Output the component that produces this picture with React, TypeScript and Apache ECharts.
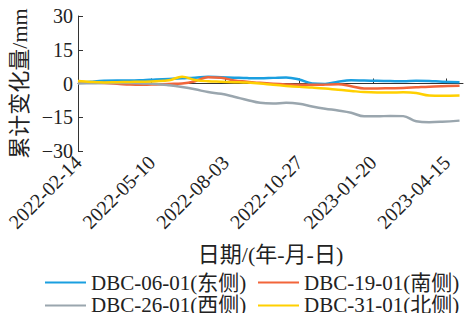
import React, { useEffect, useRef } from "react";
import * as echarts from "echarts";

const startDate = "2022-02-14";
const dates = [
  "2022-02-14", "2022-03-01", "2022-03-16", "2022-03-31", "2022-04-15", "2022-04-30",
  "2022-05-15", "2022-05-30", "2022-06-14", "2022-06-29", "2022-07-14", "2022-07-29",
  "2022-08-13", "2022-08-28", "2022-09-12", "2022-09-27", "2022-10-12", "2022-10-27",
  "2022-11-11", "2022-11-26", "2022-12-11", "2022-12-26", "2023-01-10", "2023-01-25",
  "2023-02-09", "2023-02-24", "2023-03-11", "2023-03-26", "2023-04-10", "2023-04-30",
];
const tickDates = ["2022-02-14", "2022-05-10", "2022-08-03", "2022-10-27", "2023-01-20", "2023-04-15"];
const axisEndDate = "2023-05-04";

const seriesNames = ["DBC-06-01(东侧)", "DBC-19-01(南侧)", "DBC-26-01(西侧)", "DBC-31-01(北侧)"];
const east = [0.3, 0.8, 1.2, 1.3, 1.3, 1.5, 1.8, 2.0, 2.3, 2.6, 3.0, 2.8, 2.6, 2.4, 2.3, 2.5, 2.7, 1.8, 0.0, -0.2, 0.8, 1.4, 1.3, 1.2, 1.1, 1.0, 1.2, 1.1, 0.8, 0.6];
const south = [0.8, 0.5, 0.2, -0.1, -0.5, -0.6, -0.4, -0.2, 0.0, 1.0, 2.8, 2.6, 1.3, 0.8, 0.3, -0.1, -0.4, -0.6, -0.6, -0.5, -0.3, -1.2, -2.2, -2.2, -2.1, -2.0, -1.7, -1.4, -1.2, -1.0];
const west = [0.0, 0.1, 0.2, 0.2, 0.2, 0.0, -0.2, -0.8, -1.6, -2.6, -3.8, -4.6, -5.9, -7.3, -8.6, -8.9, -8.6, -9.0, -10.2, -11.2, -12.0, -13.0, -14.6, -14.6, -14.4, -14.5, -16.8, -17.2, -17.0, -16.5];
const north = [1.1, 0.7, 0.5, 0.6, 0.7, 0.8, 1.0, 1.4, 3.0, 1.6, 1.0, 0.8, 0.6, 0.4, 0.0, -0.6, -1.1, -1.5, -1.8, -2.2, -2.8, -3.3, -3.8, -4.0, -4.0, -3.9, -4.2, -5.3, -5.4, -5.3];
const colors = ["#1a9fe0", "#f2653a", "#9aa6ae", "#ffd000"];

const DAY = 86400000;
const t0 = Date.parse(startDate + "T00:00:00Z");
const toDay = (s: string) => Math.round((Date.parse(s + "T00:00:00Z") - t0) / DAY);
const fmtDay = (d: number) => new Date(t0 + d * DAY).toISOString().slice(0, 10);

const FONT = "'Liberation Serif','Times New Roman','Noto Sans CJK SC',serif";

export default function App() {
  const ref = useRef<HTMLDivElement>(null);
  useEffect(() => {
    if (!ref.current) return;
    document.body.style.margin = "0";
    const chart = echarts.init(ref.current, null, { renderer: "svg" });
    const tickDays = tickDates.map(toDay);
    const values = [east, south, west, north];
    const legendBase = {
      orient: "vertical",
      top: 272,
      height: 60,
      itemGap: 2,
      itemWidth: 41,
      itemHeight: 2,
      itemTextGap: 6,
      icon: "rect",
      padding: 0,
      textStyle: { fontSize: 21, color: "#222", fontFamily: FONT },
    };
    chart.setOption({
      animation: false,
      textStyle: { fontFamily: FONT },
      grid: { left: 78, right: 2, top: 16, bottom: 162, containLabel: false },
      xAxis: {
        type: "value",
        min: 0,
        max: toDay(axisEndDate),
        name: "日期/(年-月-日)",
        nameLocation: "middle",
        nameGap: 92,
        nameTextStyle: { fontSize: 22, color: "#222", fontFamily: FONT },
        axisLine: { show: true, lineStyle: { color: "#333", width: 1 } },
        axisTick: { show: true, inside: true, length: 5, lineStyle: { color: "#333" }, customValues: tickDays },
        axisLabel: {
          rotate: 45,
          fontSize: 20,
          color: "#222",
          fontFamily: FONT,
          margin: 8,
          customValues: tickDays,
          formatter: (v: number) => fmtDay(v),
        },
        splitLine: { show: false },
      },
      yAxis: {
        type: "value",
        min: -30,
        max: 30,
        interval: 15,
        name: "累计变化量/mm",
        nameLocation: "middle",
        nameGap: 46,
        nameTextStyle: { fontSize: 22, color: "#222", fontFamily: FONT },
        axisLine: { show: true, lineStyle: { color: "#333", width: 1 } },
        axisTick: { show: true, inside: true, length: 5, lineStyle: { color: "#333" } },
        axisLabel: {
          fontSize: 20,
          color: "#222",
          fontFamily: FONT,
          margin: 5,
          formatter: (v: number) => (v < 0 ? "\u2212" + Math.abs(v) : String(v)),
        },
        splitLine: { show: false },
      },
      legend: [
        { ...legendBase, left: 45, data: [seriesNames[0], seriesNames[2]] },
        { ...legendBase, left: 258, data: [seriesNames[1], seriesNames[3]] },
      ],
      series: seriesNames.map((name, i) => ({
        name,
        type: "line",
        smooth: 0.4,
        showSymbol: false,
        symbol: "none",
        color: colors[i],
        lineStyle: { width: 2.5, color: colors[i] },
        data: dates.map((d, j) => [toDay(d), values[i][j]]),
      })),
    });
    return () => chart.dispose();
  }, []);
  return <div ref={ref} style={{ width: 465, height: 313 }} />;
}
